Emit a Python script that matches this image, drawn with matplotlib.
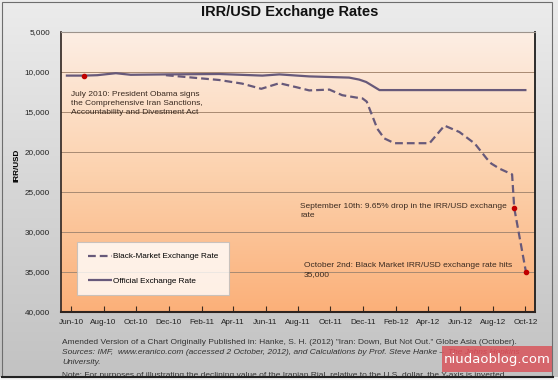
import numpy as np
import pandas as pd
import matplotlib
matplotlib.use('Agg')
import matplotlib.pyplot as plt
import matplotlib.dates as mdates
from matplotlib.colors import LinearSegmentedColormap
from matplotlib.ticker import FuncFormatter
from matplotlib.lines import Line2D
from matplotlib.patches import Rectangle

plt.rcParams['font.family'] = ['Liberation Sans', 'DejaVu Sans']

# official exchange rate (IRR per USD)
off_dates = ['2010-05-22', '2010-06-25', '2010-07-20', '2010-08-24', '2010-09-21',
             '2010-11-27', '2011-03-06', '2011-05-26', '2011-06-27', '2011-08-22',
             '2011-11-05', '2011-11-24', '2011-12-07', '2012-01-01', '2012-10-03']
off_vals = [10450, 10450, 10400, 10150, 10350,
            10300, 10250, 10450, 10300, 10550,
            10700, 10950, 11250, 12260, 12260]

# black-market exchange rate (IRR per USD)
bm_dates = ['2010-11-26', '2011-03-06', '2011-04-18', '2011-05-24', '2011-06-27',
            '2011-07-29', '2011-08-22', '2011-09-29', '2011-10-23', '2011-11-19',
            '2011-11-30', '2011-12-08', '2011-12-28', '2012-01-10', '2012-01-29',
            '2012-04-04', '2012-05-02', '2012-05-30', '2012-06-28', '2012-07-20',
            '2012-07-29', '2012-08-14', '2012-09-06', '2012-09-10', '2012-10-02']
bm_vals = [10400, 11000, 11450, 12100, 11400,
           11900, 12300, 12200, 12900, 13200,
           13300, 13700, 17100, 18300, 18900,
           18900, 16700, 17500, 18950, 20800,
           21450, 22100, 22800, 27000, 35000]

# highlighted events
dot_dates = ['2010-06-25', '2012-09-10', '2012-10-02']
dot_vals = [10450, 27000, 35000]

y_ticks = [5000, 10000, 15000, 20000, 25000, 30000, 35000, 40000]

title = 'IRR/USD Exchange Rates'
note_july = 'July 2010: President Obama signs\nthe Comprehensive Iran Sanctions,\nAccountability and Divestment Act'
note_sep = 'September 10th: 9.65% drop in the IRR/USD exchange\nrate'
note_oct = 'October 2nd: Black Market IRR/USD exchange rate hits\n35,000'
foot1 = 'Amended Version of a Chart Originally Published in: Hanke, S. H. (2012) "Iran: Down, But Not Out." Globe Asia (October).'
foot2 = 'Sources: IMF,  www.eranico.com (accessed 2 October, 2012), and Calculations by Prof. Steve Hanke \u2013'
foot2b = 'The Johns Hopkins'
foot3 = 'University.'
foot4 = 'Note: For purposes of illustrating the declining value of the Iranian Rial, relative to the U.S. dollar, the Y-axis is inverted.'

W, H = 558, 380
def fx(px):
    return px / W
def fy(py):
    return 1 - py / H

line_col = '#67597a'
fs = 5.9
fs_txt = 6.05

fig = plt.figure(figsize=(W / 100, H / 100), dpi=100)

# grey page background
bg = fig.add_axes([0, 0, 1, 1], zorder=-10)
bg.axis('off')
grey = LinearSegmentedColormap.from_list('grey', ['#c2c2c2', '#d6d6d6', '#ececec'])
bg.imshow(np.linspace(0, 1, 256).reshape(-1, 1), cmap=grey, aspect='auto',
          extent=[0, 1, 0, 1], origin='lower')
bg.set_xlim(0, 1)
bg.set_ylim(0, 1)

pos = [fx(61), fy(312), fx(535) - fx(61), (312 - 32) / H]

# orange plot-area gradient
ga = fig.add_axes(pos, zorder=-5)
ga.axis('off')
peach = LinearSegmentedColormap.from_list('peach', ['#fbb079', '#fcd2ae', '#fdeee4'])
ga.imshow(np.linspace(0, 1, 256).reshape(-1, 1), cmap=peach, aspect='auto',
          extent=[0, 1, 0, 1], origin='lower')
ga.set_xlim(0, 1)
ga.set_ylim(0, 1)

ax = fig.add_axes(pos)
ax.patch.set_visible(False)

off_x = pd.to_datetime(off_dates)
bm_x = pd.to_datetime(bm_dates)
dot_x = pd.to_datetime(dot_dates)

l_off, = ax.plot(off_x, off_vals, color=line_col, lw=1.6, solid_capstyle='butt', zorder=3)
l_bm, = ax.plot(bm_x, bm_vals, color=line_col, lw=1.6, dashes=(3.5, 1.8), zorder=3)
ax.plot(dot_x, dot_vals, 'o', color='#c00000', ms=3, zorder=4)

ax.set_xlim(pd.Timestamp('2010-05-13'), pd.Timestamp('2012-10-19'))
ax.set_ylim(40000, 5000)
ax.set_yticks(y_ticks)
ax.yaxis.set_major_formatter(FuncFormatter(lambda v, p: '{:,.0f}'.format(v)))
ax.xaxis.set_major_locator(mdates.MonthLocator(bymonth=[2, 4, 6, 8, 10, 12]))
ax.xaxis.set_major_formatter(mdates.DateFormatter('%b-%y'))

ax.yaxis.grid(True, color='#a88a72', lw=0.7)
ax.set_axisbelow(True)
ax.tick_params(axis='y', length=0, pad=8, labelsize=fs, labelcolor='#222222')
ax.tick_params(axis='x', direction='in', length=4, width=0.8, color='#3a2a20',
               pad=5, labelsize=fs, labelcolor='#222222')

ax.spines['left'].set_color('#2e2420')
ax.spines['left'].set_linewidth(1.2)
ax.spines['bottom'].set_color('#2e2420')
ax.spines['bottom'].set_linewidth(1.5)
ax.spines['right'].set_color('#1e1e1e')
ax.spines['right'].set_linewidth(1.3)
ax.spines['top'].set_color('#9c938c')
ax.spines['top'].set_linewidth(0.8)

# legend
leg = ax.legend([l_bm, l_off], ['Black-Market Exchange Rate', 'Official Exchange Rate'],
                loc='upper left', bbox_to_anchor=(fx(77), fy(242)), bbox_transform=fig.transFigure,
                fontsize=fs, frameon=True, fancybox=False, borderpad=1.3, labelspacing=2.0,
                handlelength=3.0, handletextpad=0.1, borderaxespad=0)
leg.get_frame().set_edgecolor('#bdbdbd')
leg.get_frame().set_linewidth(0.8)

# titles and notes
fig.text(fx(290), fy(12), title, ha='center', va='center', fontsize=10.5, fontweight='bold', color='#111111')
fig.text(fx(17), fy(165), 'IRR/USD', rotation=90, ha='center', va='center', fontsize=fs, fontweight='bold')
fig.text(fx(71), fy(91), note_july, ha='left', va='top', fontsize=fs_txt, color='#3a2a20', linespacing=1.4)
fig.text(fx(300), fy(202.5), note_sep, ha='left', va='top', fontsize=fs_txt, color='#3a2a20', linespacing=1.4)
fig.text(fx(304), fy(262), note_oct, ha='left', va='top', fontsize=fs_txt, color='#3a2a20', linespacing=1.4)

# footer
fig.text(fx(62), fy(343), foot1, ha='left', va='center', fontsize=fs_txt, color='#333333')
t2 = fig.text(fx(62), fy(353), foot2, ha='left', va='center', fontsize=fs_txt, color='#333333', style='italic')
ax.annotate(foot2b, xy=(1, 0.5), xycoords=t2, xytext=(3, 0), textcoords='offset points',
            ha='left', va='center', fontsize=fs_txt, color='#9a1030', style='italic',
            annotation_clip=False)
fig.text(fx(62), fy(363), foot3, ha='left', va='center', fontsize=fs_txt, color='#333333', style='italic')
fig.text(fx(62), fy(375.5), foot4, ha='left', va='center', fontsize=fs_txt, color='#333333')

# watermark
fig.patches.append(Rectangle((fx(442), fy(372)), fx(553) - fx(442), (372 - 346) / H,
                             transform=fig.transFigure, facecolor='#d9555c', alpha=0.85,
                             edgecolor='none', zorder=5))
fig.text(fx(497), fy(359), 'niudaoblog.com', ha='center', va='center', fontsize=9.5,
         color='white', family='DejaVu Sans', zorder=6)

# page frame
fig.patches.append(Rectangle((0, 0), 1, fy(376.5), transform=fig.transFigure,
                             facecolor='#f4f4f4', edgecolor='none', zorder=7))
fig.patches.append(Rectangle((fx(1.5), fy(377)), fx(552) - fx(1.5), (377 - 1.5) / H,
                             transform=fig.transFigure, facecolor='none',
                             edgecolor='#6e6e6e', lw=0.8, zorder=8))
fig.lines.append(Line2D([fx(1.5), fx(553)], [fy(377), fy(377)], transform=fig.transFigure,
                        color='#222222', lw=1.5, zorder=9))

fig.savefig('out.png', dpi=100)
